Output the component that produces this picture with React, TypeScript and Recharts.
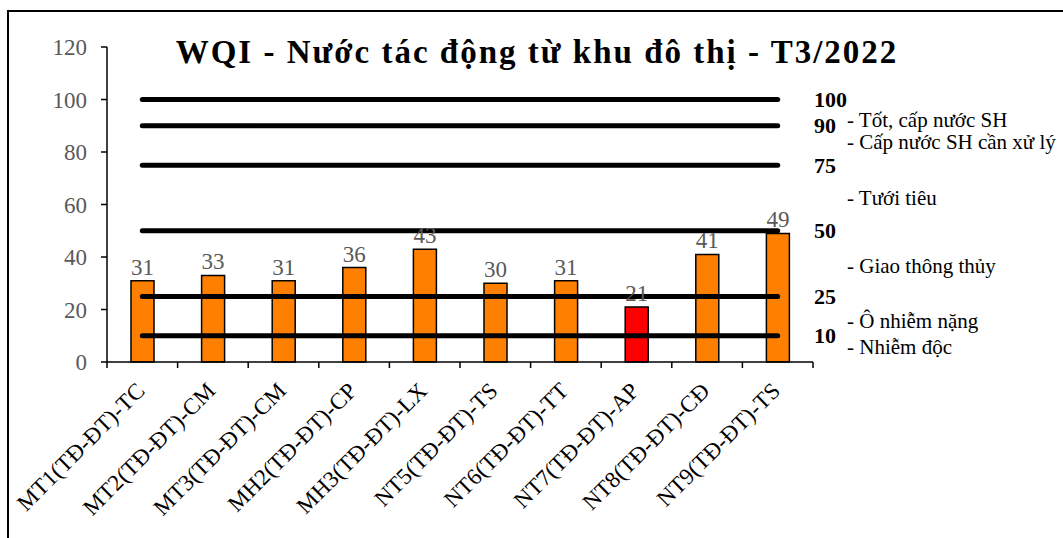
import React from 'react'
import { ComposedChart, Bar, Line, XAxis, YAxis, Cell, LabelList, ReferenceLine } from 'recharts'

const categories = [
   'MT1(TĐ-ĐT)-TC',
   'MT2(TĐ-ĐT)-CM',
   'MT3(TĐ-ĐT)-CM',
   'MH2(TĐ-ĐT)-CP',
   'MH3(TĐ-ĐT)-LX',
   'NT5(TĐ-ĐT)-TS',
   'NT6(TĐ-ĐT)-TT',
   'NT7(TĐ-ĐT)-AP',
   'NT8(TĐ-ĐT)-CĐ',
   'NT9(TĐ-ĐT)-TS',
]
const wqiValues = [31, 33, 31, 36, 43, 30, 31, 21, 41, 49]
const thresholds = [100, 90, 75, 50, 25, 10]
const bandLabels = ['- Tốt, cấp nước SH', '- Cấp nước SH cần xử lý', '- Tưới tiêu', '- Giao thông thủy', '- Ô nhiễm nặng', '- Nhiễm độc']
const bandLabelAt = [92.5, 84, 62.7, 36.7, 15.9, 5.8]
const yTicks = [0, 20, 40, 60, 80, 100, 120]

const FONT = '"Liberation Serif", "Times New Roman", serif'

const data = categories.map((name, i) => {
   const row: { [key: string]: any } = { name, wqi: wqiValues[i] }
   thresholds.forEach(t => {
      row['t' + t] = t
   })
   return row
})

// label rotated like Excel, plus tick marks on the category boundaries
const CategoryTick = (props: any) => {
   const { x, y, payload, index } = props
   const half = payload && payload.offset ? payload.offset : 35.3
   return (
      <g>
         <line x1={x - half} x2={x - half} y1={y} y2={y + 6} stroke='#000' strokeWidth={1.5} />
         {index === categories.length - 1 && (
            <line x1={x + half} x2={x + half} y1={y} y2={y + 6} stroke='#000' strokeWidth={1.5} />
         )}
         <g transform={`translate(${x + 4},${y + 30})`}>
            <text transform='rotate(-45)' textAnchor='end' fontSize={23} letterSpacing={0.2} fontFamily={FONT} fill='#000'>
               {payload.value}
            </text>
         </g>
      </g>
   )
}

const SideLabel = (props: any) => {
   const { viewBox, text, dx, bold, size } = props
   if (!viewBox) return null
   return (
      <text
         x={viewBox.x + viewBox.width + dx}
         y={viewBox.y}
         dy='0.35em'
         fontSize={size}
         fontWeight={bold ? 'bold' : 'normal'}
         fontFamily={FONT}
         fill='#000'
      >
         {text}
      </text>
   )
}

const App = () => (
   <div style={{ position: 'fixed', left: 0, top: 0, width: 1063, height: 538, overflow: 'hidden', background: '#fff' }}>
      <div
         style={{
            position: 'absolute',
            left: 7,
            top: 10,
            width: 2000,
            height: 2000,
            borderTop: '2px solid #000',
            borderLeft: '2px solid #000',
         }}
      />
      <div
         style={{
            position: 'absolute',
            left: 137,
            width: 800,
            top: 36,
            textAlign: 'center',
            fontFamily: FONT,
            fontWeight: 'bold',
            fontSize: 33,
            letterSpacing: 2,
            lineHeight: '32px',
            whiteSpace: 'nowrap',
         }}
      >
         WQI - Nước tác động từ khu đô thị - T3/2022
      </div>
      <div style={{ position: 'absolute', left: 10, top: 10 }}>
         <ComposedChart width={1050} height={528} data={data} margin={{ top: 37, right: 247, left: 37, bottom: 175 }}>
            <XAxis
               xAxisId='cat'
               dataKey='name'
               height={1}
               axisLine={{ stroke: '#000', strokeWidth: 1.5 }}
               tickLine={false}
               tickSize={0}
               tickMargin={0}
               interval={0}
               tick={<CategoryTick />}
            />
            <YAxis
               domain={[0, 120]}
               ticks={yTicks}
               width={60}
               tickSize={6}
               tickMargin={14}
               axisLine={{ stroke: '#000', strokeWidth: 1.5 }}
               tickLine={{ stroke: '#000', strokeWidth: 1.5 }}
               tick={{ fill: '#595959', fontSize: 23, fontFamily: FONT }}
            />
            <Bar xAxisId='cat' dataKey='wqi' barSize={23} stroke='#000' strokeWidth={1.5} isAnimationActive={false}>
               {wqiValues.map((v, i) => (
                  <Cell key={i} fill={v <= 25 ? '#FF0000' : '#FF8000'} />
               ))}
               <LabelList dataKey='wqi' position='top' offset={6} fill='#595959' fontSize={23} fontFamily={FONT} />
            </Bar>
            {thresholds.map(t => (
               <Line
                  key={t}
                  xAxisId='cat'
                  dataKey={'t' + t}
                  stroke='#000'
                  strokeWidth={5}
                  strokeLinecap='round'
                  dot={false}
                  activeDot={false}
                  isAnimationActive={false}
               />
            ))}
            {thresholds.map(t => (
               <ReferenceLine
                  key={'r' + t}
                  xAxisId='cat'
                  y={t}
                  stroke='none'
                  label={<SideLabel text={String(t)} dx={1} bold size={22} />}
               />
            ))}
            {bandLabels.map((text, i) => (
               <ReferenceLine
                  key={'b' + i}
                  xAxisId='cat'
                  y={bandLabelAt[i]}
                  stroke='none'
                  label={<SideLabel text={text} dx={34} size={21} />}
               />
            ))}
         </ComposedChart>
      </div>
   </div>
)

export default App
